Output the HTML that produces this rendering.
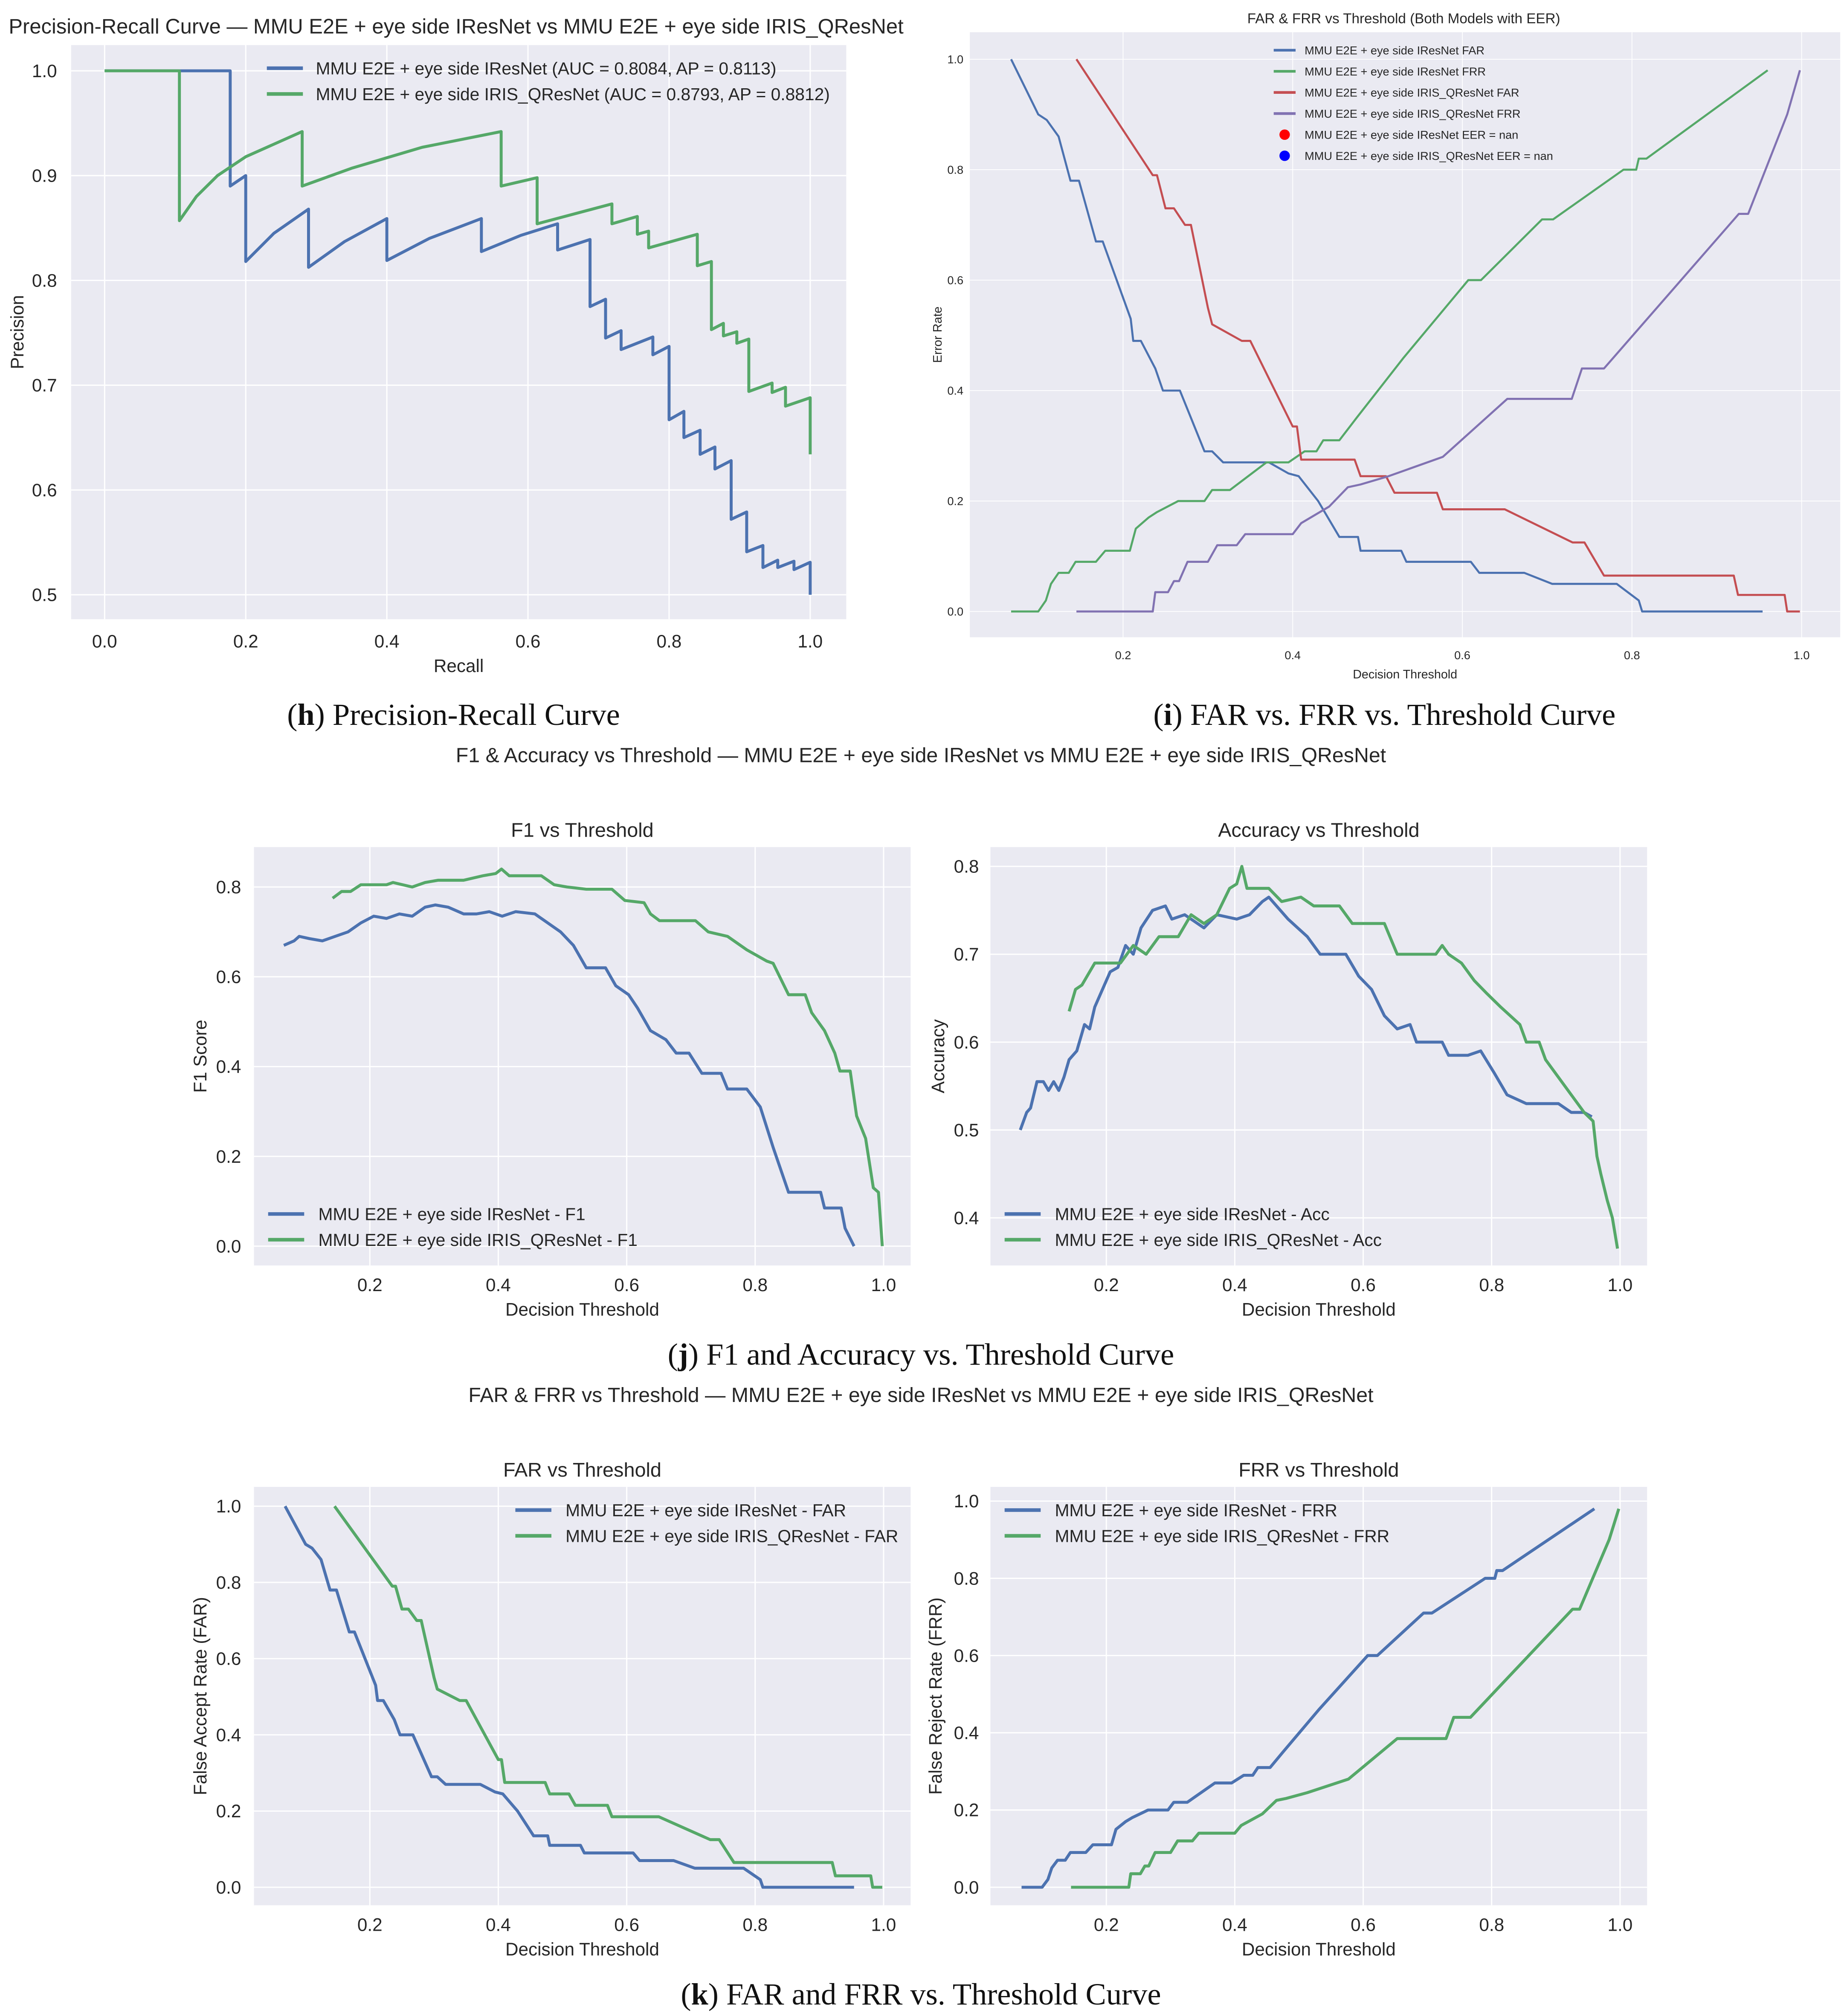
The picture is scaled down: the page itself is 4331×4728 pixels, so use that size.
<!DOCTYPE html>
<html><head><meta charset="utf-8"><style>
html,body{margin:0;padding:0;background:#fff;}
svg{display:block;}
text{font-family:"Liberation Sans",sans-serif;fill:#262626;}
.cap{font-family:"Liberation Serif",serif;font-size:24px;fill:#111;}
</style></head><body>
<svg id="fig" width="4331" height="4728" viewBox="0 0 1434 1566" xmlns="http://www.w3.org/2000/svg">
<rect x="0" y="0" width="1434" height="1566" fill="#fff"/>
<text class="cap" x="352" y="563" text-anchor="middle">(<tspan font-weight="bold">h</tspan>) Precision-Recall Curve</text>
<text class="cap" x="1075" y="563" text-anchor="middle">(<tspan font-weight="bold">i</tspan>) FAR vs. FRR vs. Threshold Curve</text>
<text x="715" y="592" font-size="16" text-anchor="middle">F1 &amp; Accuracy vs Threshold — MMU E2E + eye side IResNet vs MMU E2E + eye side IRIS_QResNet</text>
<text class="cap" x="715" y="1060" text-anchor="middle">(<tspan font-weight="bold">j</tspan>) F1 and Accuracy vs. Threshold Curve</text>
<text x="715" y="1089" font-size="16" text-anchor="middle">FAR &amp; FRR vs Threshold — MMU E2E + eye side IResNet vs MMU E2E + eye side IRIS_QResNet</text>
<text class="cap" x="715" y="1557" text-anchor="middle">(<tspan font-weight="bold">k</tspan>) FAR and FRR vs. Threshold Curve</text>
</svg>
<script>
// ---------- data ----------
const prBlue = [[0,1],[0.178,1],[0.178,0.89],[0.2,0.9],[0.2,0.818],[0.24,0.845],[0.289,0.868],[0.289,0.8125],[0.34,0.837],[0.4,0.859],[0.4,0.819],[0.46,0.84],[0.534,0.859],[0.534,0.8275],[0.59,0.843],[0.642,0.854],[0.642,0.829],[0.688,0.839],[0.688,0.775],[0.71,0.782],[0.71,0.745],[0.732,0.752],[0.732,0.734],[0.777,0.746],[0.777,0.729],[0.8,0.737],[0.8,0.667],[0.821,0.675],[0.821,0.65],[0.844,0.657],[0.844,0.634],[0.865,0.641],[0.865,0.62],[0.888,0.628],[0.888,0.572],[0.91,0.579],[0.91,0.541],[0.933,0.547],[0.933,0.526],[0.954,0.533],[0.954,0.526],[0.977,0.532],[0.977,0.524],[1,0.531],[1,0.5]];
const prGreen = [[0,1],[0.106,1],[0.106,0.857],[0.13,0.88],[0.16,0.9],[0.2,0.918],[0.28,0.942],[0.28,0.89],[0.35,0.907],[0.45,0.927],[0.562,0.942],[0.562,0.89],[0.613,0.898],[0.613,0.854],[0.719,0.873],[0.719,0.854],[0.755,0.861],[0.755,0.844],[0.771,0.847],[0.771,0.831],[0.84,0.844],[0.84,0.814],[0.86,0.818],[0.86,0.753],[0.877,0.759],[0.877,0.747],[0.896,0.751],[0.896,0.74],[0.913,0.744],[0.913,0.694],[0.946,0.702],[0.946,0.693],[0.965,0.698],[0.965,0.68],[1,0.688],[1,0.634]];
const prLegend = ["MMU E2E + eye side IResNet (AUC = 0.8084, AP = 0.8113)","MMU E2E + eye side IRIS_QResNet (AUC = 0.8793, AP = 0.8812)"];

const farIRes = [[0.068,1],[0.1,0.9],[0.11,0.89],[0.124,0.86],[0.138,0.78],[0.148,0.78],[0.168,0.67],[0.176,0.67],[0.209,0.53],[0.212,0.49],[0.221,0.49],[0.238,0.44],[0.247,0.40],[0.267,0.40],[0.296,0.29],[0.305,0.29],[0.318,0.27],[0.372,0.27],[0.395,0.25],[0.407,0.245],[0.43,0.2],[0.455,0.135],[0.477,0.135],[0.48,0.11],[0.528,0.11],[0.534,0.09],[0.61,0.09],[0.62,0.07],[0.673,0.07],[0.706,0.05],[0.782,0.05],[0.808,0.02],[0.812,0],[0.954,0]];
const frrIRes = [[0.068,0],[0.1,0],[0.109,0.02],[0.115,0.05],[0.124,0.07],[0.136,0.07],[0.144,0.09],[0.168,0.09],[0.179,0.11],[0.208,0.11],[0.215,0.15],[0.23,0.17],[0.24,0.18],[0.265,0.2],[0.296,0.2],[0.305,0.22],[0.326,0.22],[0.369,0.27],[0.395,0.27],[0.414,0.29],[0.428,0.29],[0.436,0.31],[0.455,0.31],[0.475,0.35],[0.531,0.46],[0.607,0.6],[0.622,0.6],[0.694,0.71],[0.707,0.71],[0.79,0.8],[0.805,0.8],[0.808,0.82],[0.817,0.82],[0.96,0.98]];
const farQRes = [[0.145,1],[0.235,0.79],[0.24,0.79],[0.25,0.73],[0.26,0.73],[0.273,0.70],[0.28,0.70],[0.3,0.55],[0.305,0.52],[0.34,0.49],[0.35,0.49],[0.4,0.335],[0.405,0.335],[0.41,0.275],[0.473,0.275],[0.48,0.245],[0.51,0.245],[0.52,0.215],[0.57,0.215],[0.577,0.185],[0.65,0.185],[0.73,0.125],[0.744,0.125],[0.767,0.065],[0.92,0.065],[0.925,0.03],[0.98,0.03],[0.983,0],[0.998,0]];
const frrQRes = [[0.145,0],[0.235,0],[0.238,0.035],[0.253,0.035],[0.26,0.055],[0.266,0.055],[0.276,0.09],[0.3,0.09],[0.311,0.12],[0.334,0.12],[0.344,0.14],[0.4,0.14],[0.41,0.16],[0.443,0.19],[0.465,0.225],[0.48,0.23],[0.513,0.245],[0.577,0.28],[0.653,0.385],[0.729,0.385],[0.741,0.44],[0.767,0.44],[0.926,0.72],[0.937,0.72],[0.983,0.9],[0.998,0.98]];
const errLegend = ["MMU E2E + eye side IResNet FAR","MMU E2E + eye side IResNet FRR","MMU E2E + eye side IRIS_QResNet FAR","MMU E2E + eye side IRIS_QResNet FRR","MMU E2E + eye side IResNet EER = nan","MMU E2E + eye side IRIS_QResNet EER = nan"];

const f1IRes = [[0.066,0.67],[0.082,0.68],[0.09,0.69],[0.106,0.685],[0.126,0.68],[0.146,0.69],[0.166,0.70],[0.186,0.72],[0.206,0.735],[0.226,0.73],[0.246,0.74],[0.266,0.735],[0.286,0.755],[0.302,0.76],[0.322,0.755],[0.346,0.74],[0.366,0.74],[0.386,0.745],[0.406,0.735],[0.427,0.745],[0.457,0.74],[0.477,0.72],[0.497,0.70],[0.517,0.67],[0.537,0.62],[0.567,0.62],[0.583,0.58],[0.603,0.56],[0.617,0.53],[0.637,0.48],[0.661,0.46],[0.677,0.43],[0.697,0.43],[0.717,0.385],[0.747,0.385],[0.757,0.35],[0.787,0.35],[0.808,0.31],[0.828,0.22],[0.852,0.12],[0.902,0.12],[0.908,0.085],[0.934,0.085],[0.94,0.04],[0.954,0.0]];
const f1QRes = [[0.142,0.775],[0.156,0.79],[0.17,0.79],[0.186,0.805],[0.226,0.805],[0.236,0.81],[0.266,0.80],[0.286,0.81],[0.306,0.815],[0.346,0.815],[0.376,0.825],[0.396,0.83],[0.405,0.84],[0.417,0.825],[0.467,0.825],[0.487,0.805],[0.507,0.80],[0.537,0.795],[0.577,0.795],[0.597,0.77],[0.627,0.765],[0.637,0.74],[0.651,0.725],[0.707,0.725],[0.727,0.70],[0.757,0.69],[0.787,0.66],[0.818,0.635],[0.828,0.63],[0.852,0.56],[0.878,0.56],[0.888,0.52],[0.908,0.48],[0.924,0.43],[0.932,0.39],[0.948,0.39],[0.958,0.29],[0.972,0.24],[0.984,0.13],[0.992,0.12],[0.998,0.0]];
const accIRes = [[0.066,0.50],[0.076,0.52],[0.082,0.525],[0.092,0.555],[0.102,0.555],[0.11,0.545],[0.118,0.555],[0.126,0.545],[0.134,0.56],[0.142,0.58],[0.154,0.59],[0.166,0.62],[0.174,0.615],[0.182,0.64],[0.194,0.66],[0.206,0.68],[0.218,0.685],[0.23,0.71],[0.242,0.70],[0.254,0.73],[0.272,0.75],[0.292,0.755],[0.302,0.74],[0.322,0.745],[0.352,0.73],[0.372,0.745],[0.403,0.74],[0.423,0.745],[0.443,0.76],[0.453,0.765],[0.483,0.74],[0.513,0.72],[0.533,0.70],[0.573,0.70],[0.593,0.675],[0.613,0.66],[0.633,0.63],[0.653,0.615],[0.673,0.62],[0.683,0.60],[0.723,0.60],[0.733,0.585],[0.763,0.585],[0.783,0.59],[0.804,0.565],[0.824,0.54],[0.854,0.53],[0.904,0.53],[0.924,0.52],[0.944,0.52],[0.956,0.515]];
const accQRes = [[0.142,0.635],[0.152,0.66],[0.162,0.665],[0.182,0.69],[0.222,0.69],[0.242,0.71],[0.262,0.70],[0.282,0.72],[0.312,0.72],[0.332,0.745],[0.352,0.735],[0.372,0.745],[0.392,0.775],[0.403,0.78],[0.411,0.80],[0.419,0.775],[0.453,0.775],[0.473,0.76],[0.503,0.765],[0.523,0.755],[0.563,0.755],[0.583,0.735],[0.633,0.735],[0.653,0.70],[0.713,0.70],[0.723,0.71],[0.733,0.70],[0.753,0.69],[0.773,0.67],[0.793,0.655],[0.814,0.64],[0.844,0.62],[0.854,0.60],[0.874,0.60],[0.884,0.58],[0.904,0.56],[0.924,0.54],[0.944,0.52],[0.958,0.51],[0.964,0.47],[0.97,0.45],[0.98,0.42],[0.988,0.40],[0.996,0.365]];

const BLUE="#4c72b0", GREEN="#55a868", RED="#c44e52", PURPLE="#8172b2";
const NS="http://www.w3.org/2000/svg";
const svg=document.getElementById('fig');
function el(tag,attrs,parent){const e=document.createElementNS(NS,tag);for(const k in attrs)e.setAttribute(k,attrs[k]);(parent||svg).appendChild(e);return e;}

function axes(c){
  const g=el('g',{});
  
  
  const bg=el('rect',{x:c.left,y:c.top,width:c.right-c.left,height:c.bottom-c.top,fill:'#eaeaf2'},g);
  
  
  const sx=v=>c.x0+(v-c.xv0)*(c.x1-c.x0)/(c.xv1-c.xv0);
  const sy=v=>c.y0+(v-c.yv0)*(c.y1-c.y0)/(c.yv1-c.yv0);
  c.xticks.forEach(t=>{
    const X=sx(t);
    el('line',{x1:X,x2:X,y1:c.top,y2:c.bottom,stroke:'#fff','stroke-width':c.gw||1},g);
    const tx=el('text',{x:X,y:c.xtickY,'font-size':c.fs,'text-anchor':'middle'},g);
    tx.textContent=t.toFixed(1);
    
    
  });
  c.yticks.forEach(t=>{
    const Y=sy(t);
    el('line',{x1:c.left,x2:c.right,y1:Y,y2:Y,stroke:'#fff','stroke-width':c.gw||1},g);
    const ty=el('text',{x:c.ytickX,y:Y+c.fs*0.35,'font-size':c.fs,'text-anchor':'end'},g);
    ty.textContent=t.toFixed(1);
    
    
  });
  const xl=el('text',{x:(c.left+c.right)/2,y:c.xlabY,'font-size':c.lfs,'text-anchor':'middle'},g);
  xl.textContent=c.xlabel;
  
  
  const yl=el('text',{x:0,y:0,'font-size':c.lfs,'text-anchor':'middle',transform:`translate(${c.ylabX},${(c.top+c.bottom)/2}) rotate(-90)`},g);
  yl.textContent=c.ylabel;
  
  
  if(c.title){
    const tt=el('text',{x:c.titleX||(c.left+c.right)/2,y:c.titleY,'font-size':c.tfs,'text-anchor':'middle'},g);
    tt.textContent=c.title;
    
    
  }
  c.series.forEach(s=>{
    const d=s.data.map((p,i)=>(i?'L':'M')+sx(p[0]).toFixed(2)+','+sy(p[1]).toFixed(2)).join('');
    const pth=el('path',{d:d,fill:'none',stroke:s.color,'stroke-width':c.lw,'stroke-linejoin':'round'},g);
    
    
  });
  c.legend.forEach((L,i)=>{
    const Y=c.legY+i*c.legDy;
    let m;
    if(L.dot){ m=el('circle',{cx:c.legX+(c.legLen/2),cy:Y,r:c.fs*0.45,fill:L.color},g); }
    else { m=el('line',{x1:c.legX,x2:c.legX+c.legLen,y1:Y,y2:Y,stroke:L.color,'stroke-width':c.lw+0.5},g); }
    
    
    const lt=el('text',{x:c.legX+c.legLen+c.legGap,y:Y+c.lgfs*0.36,'font-size':c.lgfs},g);
    lt.textContent=L.text;
    
    
  });
}

// (h) PR
axes({name:'precision-recall-chart',left:55,right:657,top:35,bottom:481,
  x0:81,x1:629,xv0:0,xv1:1,y0:55,y1:462,yv0:1,yv1:0.5,
  xticks:[0,0.2,0.4,0.6,0.8,1.0],yticks:[0.5,0.6,0.7,0.8,0.9,1.0],
  xtickY:503,ytickX:44,fs:14,lfs:14,xlabel:'Recall',xlabY:522,ylabel:'Precision',ylabX:18,
  title:'Precision-Recall Curve — MMU E2E + eye side IResNet vs MMU E2E + eye side IRIS_QResNet',titleY:26,titleX:354,tfs:16.2,lw:2.3,
  series:[{data:prBlue,color:BLUE,name:'pr-curve-iresnet'},{data:prGreen,color:GREEN,name:'pr-curve-iris-qresnet'}],
  legend:[{color:BLUE,text:prLegend[0]},{color:GREEN,text:prLegend[1]}],legX:207,legLen:28,legGap:10,legY:53,legDy:20,lgfs:13.5});

// (i) FAR & FRR combined
axes({name:'far-frr-combined-chart',left:753,right:1429,top:25,bottom:495,
  x0:872,x1:1399,xv0:0.2,xv1:1.0,y0:475,y1:46,yv0:0,yv1:1,
  xticks:[0.2,0.4,0.6,0.8,1.0],yticks:[0,0.2,0.4,0.6,0.8,1.0],
  xtickY:512,ytickX:748,fs:9,lfs:9.5,xlabel:'Decision Threshold',xlabY:527,ylabel:'Error Rate',ylabX:731,
  title:'FAR & FRR vs Threshold (Both Models with EER)',titleY:18,titleX:1090,tfs:11,lw:1.6,gw:0.6,
  series:[{data:farIRes,color:BLUE,name:'far-iresnet'},{data:frrIRes,color:GREEN,name:'frr-iresnet'},{data:farQRes,color:RED,name:'far-iris-qresnet'},{data:frrQRes,color:PURPLE,name:'frr-iris-qresnet'}],
  legend:[{color:BLUE,text:errLegend[0]},{color:GREEN,text:errLegend[1]},{color:RED,text:errLegend[2]},{color:PURPLE,text:errLegend[3]},{color:'#ff0000',dot:true,text:errLegend[4]},{color:'#0000ff',dot:true,text:errLegend[5]}],
  legX:989,legLen:17,legGap:7,legY:39,legDy:16.4,lgfs:9});

// (j) F1
axes({name:'f1-chart',left:197,right:707,top:658,bottom:983,
  x0:287,x1:686,xv0:0.2,xv1:1.0,y0:968,y1:689,yv0:0,yv1:0.8,
  xticks:[0.2,0.4,0.6,0.8,1.0],yticks:[0,0.2,0.4,0.6,0.8],
  xtickY:1003,ytickX:187,fs:14,lfs:14,xlabel:'Decision Threshold',xlabY:1022,ylabel:'F1 Score',ylabX:160,
  title:'F1 vs Threshold',titleY:650,tfs:15.5,lw:2.3,
  series:[{data:f1IRes,color:BLUE,name:'f1-iresnet'},{data:f1QRes,color:GREEN,name:'f1-iris-qresnet'}],
  legend:[{color:BLUE,text:'MMU E2E + eye side IResNet - F1'},{color:GREEN,text:'MMU E2E + eye side IRIS_QResNet - F1'}],legX:208,legLen:28,legGap:11,legY:943,legDy:20,lgfs:13.5});

// (j) Accuracy
axes({name:'accuracy-chart',left:769,right:1279,top:658,bottom:983,
  x0:859,x1:1258,xv0:0.2,xv1:1.0,y0:946,y1:673,yv0:0.4,yv1:0.8,
  xticks:[0.2,0.4,0.6,0.8,1.0],yticks:[0.4,0.5,0.6,0.7,0.8],
  xtickY:1003,ytickX:760,fs:14,lfs:14,xlabel:'Decision Threshold',xlabY:1022,ylabel:'Accuracy',ylabX:733,
  title:'Accuracy vs Threshold',titleY:650,tfs:15.5,lw:2.3,
  series:[{data:accIRes,color:BLUE,name:'accuracy-iresnet'},{data:accQRes,color:GREEN,name:'accuracy-iris-qresnet'}],
  legend:[{color:BLUE,text:'MMU E2E + eye side IResNet - Acc'},{color:GREEN,text:'MMU E2E + eye side IRIS_QResNet - Acc'}],legX:780,legLen:28,legGap:11,legY:943,legDy:20,lgfs:13.5});

// (k) FAR
axes({name:'far-chart',left:197,right:707,top:1155,bottom:1480,
  x0:287,x1:686,xv0:0.2,xv1:1.0,y0:1466,y1:1170,yv0:0,yv1:1,
  xticks:[0.2,0.4,0.6,0.8,1.0],yticks:[0,0.2,0.4,0.6,0.8,1.0],
  xtickY:1500,ytickX:187,fs:14,lfs:14,xlabel:'Decision Threshold',xlabY:1519,ylabel:'False Accept Rate (FAR)',ylabX:160,
  title:'FAR vs Threshold',titleY:1147,tfs:15.5,lw:2.3,
  series:[{data:farIRes,color:BLUE,name:'far-iresnet-k'},{data:farQRes,color:GREEN,name:'far-iris-qresnet-k'}],
  legend:[{color:BLUE,text:'MMU E2E + eye side IResNet - FAR'},{color:GREEN,text:'MMU E2E + eye side IRIS_QResNet - FAR'}],legX:400,legLen:28,legGap:11,legY:1173,legDy:20,lgfs:13.5});

// (k) FRR
axes({name:'frr-chart',left:769,right:1279,top:1155,bottom:1480,
  x0:859,x1:1258,xv0:0.2,xv1:1.0,y0:1466,y1:1166,yv0:0,yv1:1,
  xticks:[0.2,0.4,0.6,0.8,1.0],yticks:[0,0.2,0.4,0.6,0.8,1.0],
  xtickY:1500,ytickX:760,fs:14,lfs:14,xlabel:'Decision Threshold',xlabY:1519,ylabel:'False Reject Rate (FRR)',ylabX:731,
  title:'FRR vs Threshold',titleY:1147,tfs:15.5,lw:2.3,
  series:[{data:frrIRes,color:BLUE,name:'frr-iresnet-k'},{data:frrQRes,color:GREEN,name:'frr-iris-qresnet-k'}],
  legend:[{color:BLUE,text:'MMU E2E + eye side IResNet - FRR'},{color:GREEN,text:'MMU E2E + eye side IRIS_QResNet - FRR'}],legX:780,legLen:28,legGap:11,legY:1173,legDy:20,lgfs:13.5});
</script>
</body></html>
